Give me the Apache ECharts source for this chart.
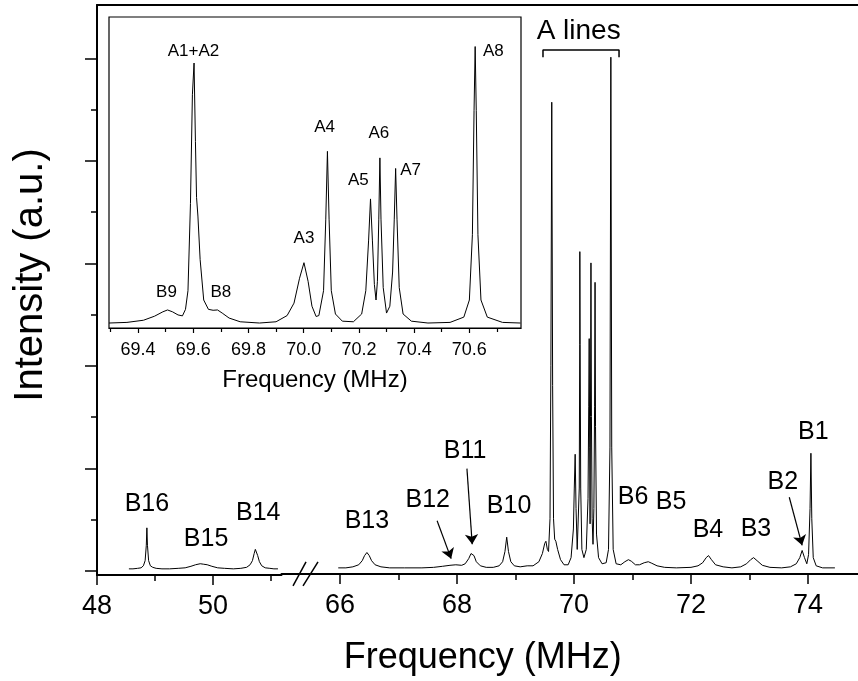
<!DOCTYPE html>
<html><head><meta charset="utf-8">
<script src="https://cdn.jsdelivr.net/npm/echarts@6.0.0/dist/echarts.min.js"></script>
<style>html,body{margin:0;padding:0;background:#fff}#c{width:858px;height:681px}</style>
</head><body><div id="c"></div>
<script>
// ---- main spectrum, low-frequency segment ----
const freqLow = [48.55,48.62,48.70,48.76,48.80,48.83,48.85,48.86,48.87,48.89,48.92,48.96,49.02,49.12,49.25,49.40,49.52,49.62,49.70,49.78,49.84,49.90,49.98,50.08,50.20,50.35,50.48,50.58,50.64,50.68,50.71,50.73,50.74,50.75,50.77,50.80,50.84,50.90,50.98,51.05,51.12];
const intensityLow = [0.02,0.02,0.025,0.03,0.05,0.10,0.25,0.42,0.25,0.10,0.05,0.035,0.025,0.02,0.02,0.025,0.03,0.045,0.06,0.07,0.065,0.06,0.045,0.03,0.025,0.02,0.025,0.035,0.06,0.10,0.17,0.21,0.22,0.21,0.15,0.09,0.05,0.03,0.025,0.02,0.02];

// ---- main spectrum, high-frequency segment ----
const freqHigh = [65.97,66.10,66.22,66.32,66.38,66.42,66.46,66.50,66.54,66.60,66.70,66.85,67.10,67.40,67.60,67.75,67.88,67.98,68.08,68.14,68.20,68.24,68.26,68.29,68.33,68.40,68.50,68.62,68.72,68.78,68.82,68.85,68.88,68.92,68.98,69.08,69.20,69.30,69.40,69.46,69.50,69.52,69.545,69.565,69.59,69.605,69.62,69.635,69.65,69.67,69.69,69.72,69.77,69.83,69.90,69.95,69.99,70.005,70.02,70.035,70.055,70.075,70.09,70.098,70.10,70.105,70.115,70.135,70.17,70.21,70.24,70.252,70.26,70.268,70.275,70.282,70.29,70.298,70.31,70.325,70.34,70.352,70.36,70.368,70.385,70.42,70.48,70.55,70.59,70.615,70.63,70.645,70.67,70.72,70.80,70.87,70.93,70.98,71.05,71.12,71.20,71.27,71.33,71.42,71.55,71.75,72.00,72.12,72.20,72.26,72.30,72.35,72.42,72.55,72.70,72.85,72.95,73.02,73.07,73.13,73.22,73.35,73.55,73.70,73.80,73.86,73.90,73.94,73.98,74.01,74.035,74.05,74.065,74.09,74.14,74.25,74.46];
const intensityHigh = [0.02,0.02,0.03,0.05,0.09,0.14,0.17,0.14,0.09,0.05,0.03,0.02,0.02,0.02,0.025,0.035,0.045,0.05,0.045,0.06,0.11,0.16,0.17,0.14,0.08,0.04,0.025,0.025,0.04,0.08,0.18,0.32,0.18,0.08,0.04,0.03,0.04,0.04,0.08,0.16,0.26,0.28,0.20,0.18,0.5,2.0,4.57,1.8,0.5,0.30,0.28,0.20,0.10,0.05,0.05,0.12,0.40,0.8,1.13,0.6,0.2,0.2,0.8,2.2,3.11,2.2,0.8,0.2,0.12,0.2,0.7,1.6,2.26,1.2,0.45,1.5,3.0,1.5,0.5,0.25,0.6,1.6,2.81,1.4,0.35,0.12,0.06,0.07,0.2,1.2,5.01,1.2,0.2,0.06,0.05,0.08,0.10,0.085,0.05,0.05,0.07,0.08,0.065,0.04,0.025,0.02,0.025,0.04,0.07,0.12,0.14,0.10,0.05,0.03,0.02,0.03,0.06,0.10,0.12,0.09,0.045,0.025,0.02,0.03,0.06,0.12,0.19,0.12,0.06,0.15,0.6,1.14,0.5,0.12,0.04,0.02,0.02];

// ---- inset spectrum ----
const freqInset = [69.295,69.36,69.42,69.46,69.49,69.507,69.525,69.545,69.561,69.572,69.581,69.590,69.597,69.603,69.608,69.612,69.617,69.625,69.638,69.655,69.672,69.688,69.705,69.73,69.77,69.84,69.90,69.94,69.965,69.985,70.001,70.016,70.03,70.045,70.055,70.072,70.080,70.086,70.092,70.10,70.115,70.14,70.18,70.21,70.225,70.235,70.242,70.249,70.256,70.262,70.267,70.272,70.276,70.280,70.288,70.30,70.312,70.322,70.328,70.333,70.338,70.346,70.36,70.39,70.45,70.53,70.58,70.60,70.611,70.617,70.621,70.625,70.631,70.642,70.665,70.72,70.785];
const intensityInset = [0.016,0.018,0.025,0.038,0.052,0.058,0.052,0.042,0.039,0.06,0.12,0.4,0.75,0.852,0.6,0.42,0.36,0.22,0.09,0.06,0.057,0.058,0.048,0.032,0.02,0.016,0.02,0.04,0.08,0.16,0.21,0.15,0.07,0.037,0.04,0.12,0.35,0.568,0.35,0.12,0.045,0.022,0.02,0.045,0.12,0.28,0.415,0.28,0.14,0.09,0.15,0.35,0.547,0.35,0.13,0.048,0.07,0.18,0.35,0.513,0.35,0.13,0.045,0.022,0.016,0.018,0.035,0.09,0.3,0.7,0.905,0.7,0.3,0.09,0.035,0.018,0.016];

// ---- tick positions ----
const lowTicksMajor = [48, 50];
const lowTicksMinor = [49, 51];
const highTicksMajor = [66, 68, 70, 72, 74];
const highTicksMinor = [67, 69, 71, 73];
const yTicksMajor = [0, 1, 2, 3, 4, 5];
const yTicksMinor = [0.5, 1.5, 2.5, 3.5, 4.5];
const insetTicksMajor = [69.4, 69.6, 69.8, 70.0, 70.2, 70.4, 70.6];
const insetTicksMinor = [69.3, 69.5, 69.7, 69.9, 70.1, 70.3, 70.5, 70.7];

// ---- annotations (data coordinates) ----
const lowLabelNames = ['B16', 'B15', 'B14'];
const lowLabelFreq = [48.86, 49.88, 50.78];
const lowLabelInt = [0.65, 0.31, 0.56];
const highLabelNames = ['B13', 'B12', 'B11', 'B10', 'B6', 'B5', 'B4', 'B3', 'B2', 'B1'];
const highLabelFreq = [66.46, 67.50, 68.14, 68.89, 71.01, 71.66, 72.29, 73.11, 73.57, 74.09];
const highLabelInt = [0.48, 0.68, 1.16, 0.62, 0.71, 0.66, 0.39, 0.40, 0.86, 1.35];
const groupLabel = ['A lines', 70.08, 5.26];
const bracketFreq = [69.47, 69.47, 70.77, 70.77];
const bracketInt = [5.01, 5.08, 5.08, 5.01];
const arrowFrom = [[67.66, 0.48], [68.17, 0.99], [73.68, 0.71]];
const arrowTo = [[67.90, 0.11], [68.26, 0.25], [73.90, 0.24]];
const breakFreq1 = [65.197, 65.419];
const breakFreq2 = [65.368, 65.624];
const breakInt = [-0.156, 0.078];
const insetLabelNames = ['A1+A2', 'B9', 'B8', 'A3', 'A4', 'A5', 'A6', 'A7', 'A8'];
const insetLabelFreq = [69.601, 69.503, 69.700, 70.001, 70.076, 70.198, 70.272, 70.387, 70.687];
const insetLabelInt = [0.891, 0.115, 0.115, 0.289, 0.646, 0.474, 0.625, 0.507, 0.891];

const zip = (a, b) => a.map((v, i) => [v, b[i]]);
const FONT = 'Liberation Sans, Arial, sans-serif';
const BLACK = '#000';

function labelSeries(names, xs, ys, xi, yi, size) {
  return {
    type: 'scatter', xAxisIndex: xi, yAxisIndex: yi, symbolSize: 0, silent: true, clip: false, z: 10,
    itemStyle: { color: BLACK },
    data: names.map((n, i) => ({ name: n, value: [xs[i], ys[i]] })),
    label: { show: true, position: [0, 0], align: 'center', verticalAlign: 'middle', formatter: p => p.name,
      color: BLACK, textBorderWidth: 0, opacity: 1, fontFamily: FONT, fontSize: size }
  };
}
function tickAxis(gi, min, max, values, len, withLine, pos, extra) {
  return Object.assign({
    type: 'value', gridIndex: gi, min: min, max: max, position: pos || 'bottom',
    splitLine: { show: false },
    axisLine: { show: withLine, onZero: false, lineStyle: { color: BLACK, width: 2 } },
    axisTick: { show: values.length > 0, customValues: values, length: len, lineStyle: { color: BLACK, width: 1.5 } },
    axisLabel: { show: false }
  }, extra || {});
}

const lowMax = 51.181, highMin = 65.0, highMax = 74.855;
const yMin = -0.04, yMax = 5.52;
const insetMin = 69.295, insetMax = 70.787;

const option = {
  animation: false,
  backgroundColor: '#fff',
  grid: [
    { left: 97, right: 576.5, top: 5, bottom: 106 },
    { left: 281.5, right: 0, top: 5, bottom: 106 },
    { left: 109, right: 337, top: 17, bottom: 353, show: true, backgroundColor: '#fff', borderColor: BLACK, borderWidth: 1.2, z: 5 }
  ],
  xAxis: [
    tickAxis(0, 48, lowMax, lowTicksMajor, 10, true, 'bottom', {
      axisLabel: { show: true, customValues: lowTicksMajor, margin: 18, color: BLACK, fontFamily: FONT, fontSize: 27 }
    }),
    tickAxis(0, 48, lowMax, lowTicksMinor, 6, false),
    tickAxis(0, 48, lowMax, [], 0, true, 'top'),
    tickAxis(1, highMin, highMax, highTicksMajor, 10, true, 'bottom', {
      axisLabel: { show: true, customValues: highTicksMajor, margin: 18, color: BLACK, fontFamily: FONT, fontSize: 27 },
      name: 'Frequency (MHz)', nameLocation: 'middle', nameGap: 66,
      nameTextStyle: { color: BLACK, fontFamily: FONT, fontSize: 36, padding: [0, 174, 0, 0] }
    }),
    tickAxis(1, highMin, highMax, highTicksMinor, 6, false),
    tickAxis(1, highMin, highMax, [], 0, true, 'top'),
    tickAxis(2, insetMin, insetMax, insetTicksMajor, 5, true, 'bottom', {
      axisLine: { show: true, onZero: false, lineStyle: { color: BLACK, width: 1.2 } },
      axisTick: { show: true, customValues: insetTicksMajor, length: 5, lineStyle: { color: BLACK, width: 1.2 } },
      axisLabel: { show: true, customValues: insetTicksMajor, margin: 13, color: BLACK, fontFamily: FONT, fontSize: 18, formatter: v => Number(v).toFixed(1) },
      name: 'Frequency (MHz)', nameLocation: 'middle', nameGap: 40,
      nameTextStyle: { color: BLACK, fontFamily: FONT, fontSize: 24 }
    }),
    tickAxis(2, insetMin, insetMax, insetTicksMinor, 4, false, 'bottom', {
      axisTick: { show: true, customValues: insetTicksMinor, length: 4, lineStyle: { color: BLACK, width: 1.2 } }
    })
  ],
  yAxis: [
    tickAxis(0, yMin, yMax, yTicksMajor, 12, true, 'left', {
      name: 'Intensity (a.u.)', nameLocation: 'middle', nameGap: 46,
      nameTextStyle: { color: BLACK, fontFamily: FONT, fontSize: 40, padding: [0, 0, 0, 30] }
    }),
    tickAxis(0, yMin, yMax, yTicksMinor, 6, false, 'left'),
    tickAxis(1, yMin, yMax, [], 0, false, 'left'),
    tickAxis(2, 0, 1, [], 0, false, 'left')
  ],
  series: [
    { type: 'line', xAxisIndex: 0, yAxisIndex: 0, data: zip(freqLow, intensityLow), showSymbol: false, symbol: 'none', silent: true,
      lineStyle: { color: BLACK, width: 1 } },
    { type: 'line', xAxisIndex: 3, yAxisIndex: 2, data: zip(freqHigh, intensityHigh), showSymbol: false, symbol: 'none', silent: true,
      lineStyle: { color: BLACK, width: 1 },
      markLine: {
        silent: true, symbol: ['none', 'arrow'], symbolSize: 10, animation: false,
        label: { show: false }, itemStyle: { color: BLACK },
        lineStyle: { color: BLACK, width: 1.2, type: 'solid' },
        data: arrowFrom.map((f, i) => [{ coord: f }, { coord: arrowTo[i] }])
      } },
    { type: 'line', xAxisIndex: 3, yAxisIndex: 2, data: zip(bracketFreq, bracketInt), showSymbol: false, symbol: 'none', silent: true, clip: false,
      lineStyle: { color: BLACK, width: 1.5 } },
    { type: 'line', xAxisIndex: 3, yAxisIndex: 2, data: zip(breakFreq1, breakInt), showSymbol: false, symbol: 'none', silent: true, clip: false,
      lineStyle: { color: BLACK, width: 1.5 } },
    { type: 'line', xAxisIndex: 3, yAxisIndex: 2, data: zip(breakFreq2, breakInt), showSymbol: false, symbol: 'none', silent: true, clip: false,
      lineStyle: { color: BLACK, width: 1.5 } },
    { type: 'line', xAxisIndex: 6, yAxisIndex: 3, data: zip(freqInset, intensityInset), showSymbol: false, symbol: 'none', silent: true, z: 6,
      lineStyle: { color: BLACK, width: 1 } },
    labelSeries(lowLabelNames, lowLabelFreq, lowLabelInt, 0, 0, 25),
    labelSeries(highLabelNames, highLabelFreq, highLabelInt, 3, 2, 25),
    labelSeries([groupLabel[0]], [groupLabel[1]], [groupLabel[2]], 3, 2, 28),
    Object.assign(labelSeries(insetLabelNames, insetLabelFreq, insetLabelInt, 6, 3, 17), { z: 12 })
  ]
};
const chart = echarts.init(document.getElementById('c'), null, { renderer: 'canvas' });
chart.setOption(option);
</script>
</body></html>
